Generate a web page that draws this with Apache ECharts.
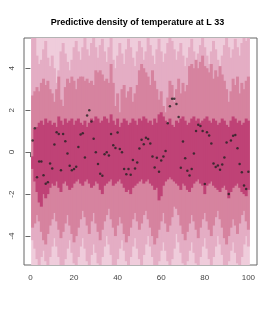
<!DOCTYPE html>
<html><head><meta charset="utf-8">
<script src="https://cdn.jsdelivr.net/npm/echarts@6/dist/echarts.min.js"></script>
<style>html,body{margin:0;padding:0;background:#fff}#c{width:275px;height:314px}</style>
</head><body><div id="c"></div>
<script>
// x positions 1..100
const xs = Array.from({length:100},(_,i)=>i+1);
const xTicks = [0,20,40,60,80,100];
const yTicks = [-4,-2,0,2,4];
const title = 'Predictive density of temperature at L 33';

// observed temperatures
const obs = [0.55,1.14,-1.2,-0.45,-0.45,-1.1,-1.51,-1.43,-0.54,-0.78,
0.36,0.95,0.87,-0.86,0.87,0.52,-0.06,-0.65,-0.86,-0.8,
-0.7,0.25,0.84,0.9,-0.26,1.74,2.0,1.46,0.64,0.0,
-0.56,-1.03,-1.13,-0.1,0.0,-0.16,0.87,0.33,0.2,0.94,
0.15,0.0,-0.8,-1.05,-0.8,-1.08,-0.37,-0.78,-0.5,0.17,
0.59,0.38,0.68,0.63,0.41,-0.21,-0.73,-0.27,-0.94,-0.4,
-0.21,0.05,1.38,2.19,2.54,2.54,2.29,1.68,-0.75,0.51,
-0.29,-0.89,-1.11,-0.81,-0.07,1.01,1.31,1.24,1.01,-1.52,
0.95,0.79,0.41,-0.54,-0.71,-0.64,-0.84,-0.59,-0.26,0.46,
-2.0,0.55,0.78,0.82,0.19,-0.57,-0.96,-1.59,-1.76,-0.93];

// outer interval (light)
const up3 = [5.8,5.6,4.6,4.2,4.4,4.9,5.3,4.5,4.1,4.6,
4.0,3.3,3.9,4.8,5.2,4.7,4.3,3.9,4.4,5.0,
5.3,4.8,4.4,5.0,5.5,4.9,4.6,5.2,5.6,5.0,
4.5,5.1,5.4,4.8,4.3,5.0,5.5,4.4,4.0,4.6,
5.2,4.7,4.2,4.9,5.4,5.0,4.5,4.1,4.8,5.3,
5.0,4.4,4.8,5.5,5.1,4.6,4.2,4.9,5.4,4.8,
4.3,4.7,5.2,5.6,5.3,4.9,4.4,4.8,5.2,4.6,
4.1,4.5,5.0,5.4,4.8,4.3,4.7,5.1,5.5,5.0,
4.6,4.2,4.8,5.3,4.9,4.4,4.0,4.6,5.1,5.5,
5.0,4.5,4.9,5.4,5.0,4.6,5.2,5.6,5.3,5.7];
const lo3 = [-4.2,-4.6,-5.1,-5.5,-5.0,-4.7,-5.2,-5.6,-5.0,-4.5,
-4.1,-4.5,-5.0,-5.4,-5.7,-5.1,-4.6,-4.2,-4.8,-5.3,
-5.6,-5.0,-4.5,-4.1,-4.6,-5.2,-5.5,-4.9,-4.4,-4.8,
-5.3,-5.6,-5.0,-4.5,-4.0,-4.4,-4.9,-5.4,-5.7,-5.1,
-4.6,-4.2,-4.7,-5.2,-5.5,-5.0,-4.5,-4.1,-4.6,-5.1,
-5.4,-4.9,-4.4,-4.0,-4.5,-5.0,-5.5,-5.8,-5.2,-4.7,
-4.3,-4.7,-5.2,-5.6,-5.1,-4.6,-3.9,-4.3,-4.8,-5.3,
-5.7,-5.2,-4.7,-4.3,-4.8,-5.3,-5.6,-5.0,-4.5,-4.1,
-4.6,-5.1,-5.5,-5.0,-4.5,-4.0,-4.4,-4.9,-5.4,-5.8,
-5.2,-4.7,-4.3,-4.8,-5.3,-5.6,-5.0,-4.4,-4.0,-4.5];

// middle interval (medium)
const up2 = [2.7,2.9,3.1,2.9,3.3,3.5,3.2,3.4,3.0,2.8,
2.4,3.0,3.6,2.5,2.2,3.1,3.5,3.3,3.6,3.4,
3.0,3.5,3.6,3.6,3.4,3.5,3.3,3.4,3.2,3.9,
3.8,3.9,3.7,3.4,3.5,3.3,4.2,3.3,2.2,2.8,
1.9,3.0,3.2,2.6,2.9,3.1,2.4,2.8,3.2,3.9,
4.2,4.0,3.8,3.6,3.2,3.9,3.4,3.0,2.5,2.9,
2.2,1.9,2.6,3.4,3.2,2.4,3.0,3.5,2.8,3.3,
2.9,3.2,4.1,4.2,4.0,4.4,4.0,4.3,4.6,4.1,
4.0,3.8,4.2,3.5,3.9,3.6,4.1,3.7,3.4,3.0,
2.4,2.9,3.5,3.2,3.6,2.8,3.3,3.0,3.4,3.6];
const lo2 = [-3.6,-3.4,-3.0,-3.3,-3.8,-4.2,-4.4,-3.9,-3.5,-3.2,
-2.9,-3.3,-3.7,-4.1,-3.8,-3.4,-3.0,-3.5,-3.9,-4.3,
-4.0,-3.6,-3.2,-2.8,-3.1,-3.5,-3.9,-3.3,-2.9,-3.4,
-3.8,-4.2,-3.7,-3.3,-3.0,-2.7,-3.2,-3.6,-4.0,-3.5,
-3.1,-3.4,-3.9,-4.3,-4.0,-3.6,-3.2,-2.9,-3.3,-3.7,
-3.4,-3.0,-2.8,-3.2,-3.6,-4.0,-4.4,-4.1,-3.7,-3.3,
-2.9,-3.4,-3.8,-3.5,-3.1,-2.6,-2.7,-3.0,-3.5,-3.9,
-4.2,-3.8,-3.4,-3.0,-3.3,-3.7,-4.1,-3.6,-3.2,-2.9,
-3.3,-3.7,-4.0,-3.5,-3.1,-2.8,-3.2,-3.6,-4.1,-4.4,
-4.0,-3.6,-3.2,-3.5,-3.9,-3.4,-3.0,-2.8,-3.3,-3.7];

// inner interval (dark)
const up1 = [-0.2,1.1,1.2,1.4,1.5,1.3,1.6,1.4,1.5,1.3,
1.4,1.2,1.7,1.5,1.3,1.6,1.4,1.5,1.6,1.3,
1.5,1.6,1.4,1.3,1.5,1.2,1.4,1.6,1.5,1.7,
1.6,1.4,1.5,1.7,1.6,1.4,1.8,1.5,1.3,1.6,
1.2,1.4,1.6,1.5,1.3,1.4,1.6,1.5,1.3,1.6,
1.5,1.7,1.6,1.4,1.5,1.3,1.6,1.4,1.8,1.9,
1.7,1.5,1.4,1.6,1.3,1.2,1.5,1.4,1.6,1.7,
1.5,1.3,1.4,1.6,1.7,1.5,1.6,1.4,1.5,1.6,
1.7,1.5,1.4,1.6,1.5,1.3,1.4,1.6,1.5,1.3,
1.2,1.5,1.7,1.6,1.4,1.5,1.3,1.4,1.6,1.5];
const lo1 = [-0.8,-1.4,-1.9,-2.4,-2.6,-2.0,-2.2,-2.0,-1.7,-1.5,
-1.6,-1.4,-1.7,-1.9,-1.5,-1.4,-1.6,-1.8,-1.7,-1.5,
-1.4,-1.3,-1.5,-1.6,-1.4,-1.3,-1.5,-1.7,-1.6,-1.4,
-1.5,-1.8,-2.0,-1.6,-1.5,-1.4,-1.3,-1.6,-1.5,-1.4,
-1.3,-1.5,-1.7,-1.9,-1.8,-2.0,-1.7,-1.6,-1.5,-1.4,
-1.3,-1.5,-1.4,-1.3,-1.5,-1.6,-1.8,-1.7,-2.3,-2.1,
-1.6,-1.4,-1.3,-1.2,-1.3,-1.4,-1.5,-1.6,-1.8,-1.5,
-1.6,-1.8,-1.9,-1.7,-1.5,-1.4,-1.3,-1.5,-1.6,-2.0,
-1.6,-1.5,-1.4,-1.6,-1.7,-1.8,-1.9,-1.7,-1.6,-1.8,
-2.2,-1.9,-1.7,-1.6,-1.5,-1.7,-1.9,-2.0,-2.1,-1.8];

const fullRange = [-6, 6];

function bandData(lo, hi){ return xs.map((x,i)=>[x, lo[i], hi[i]]); }
function rectItem(params, api){
  const x = api.value(0);
  const p1 = api.coord([x-0.5, api.value(2)]);
  const p2 = api.coord([x+0.5, api.value(1)]);
  return {type:'rect', shape:{x:p1[0]-0.4, y:p1[1], width:p2[0]-p1[0]+0.8, height:p2[1]-p1[1]},
    style:{fill: api.visual('color')}};
}
function band(lo, hi, color){
  return {type:'custom', renderItem: rectItem, data: bandData(lo, hi), clip:true,
    itemStyle:{color}, encode:{x:0, y:[1,2]}, silent:true, animation:false};
}

const chart = echarts.init(document.getElementById('c'), null, {renderer:'canvas'});
chart.setOption({
  animation:false,
  title:{text:title, left:'center', top:13, textStyle:{fontFamily:'Liberation Sans', fontWeight:'bold', fontSize:9, color:'#000'}},
  grid:{left:24, right:18, top:38, bottom:49, show:true, borderColor:'#666', borderWidth:1, backgroundColor:'transparent'},
  xAxis:{type:'value', min:-2.96, max:103.96, splitLine:{show:false},
    axisLine:{show:false},
    axisTick:{show:true, length:5, inside:false, lineStyle:{color:'#666'}, customValues:xTicks},
    axisLabel:{fontFamily:'Liberation Sans', fontSize:8, color:'#444', margin:9, customValues:xTicks}},
  yAxis:{type:'value', min:-5.38, max:5.44, splitLine:{show:false},
    axisLine:{show:false},
    axisTick:{show:true, length:5, lineStyle:{color:'#666'}, customValues:yTicks},
    axisLabel:{fontFamily:'Liberation Sans', fontSize:8, color:'#444', rotate:90, margin:8, customValues:yTicks}},
  series:[
    band(xs.map(()=>fullRange[0]), xs.map(()=>fullRange[1]), '#EFCCDB'),
    band(lo3, up3, '#E4ADC4'),
    band(lo2, up2, '#D6839F'),
    band(lo1, up1, '#BF4276'),
    {type:'scatter', data: xs.map((x,i)=>[x, obs[i]]), symbolSize:2.5, itemStyle:{color:'#222'}, silent:true, animation:false}
  ]
});
</script></body></html>
